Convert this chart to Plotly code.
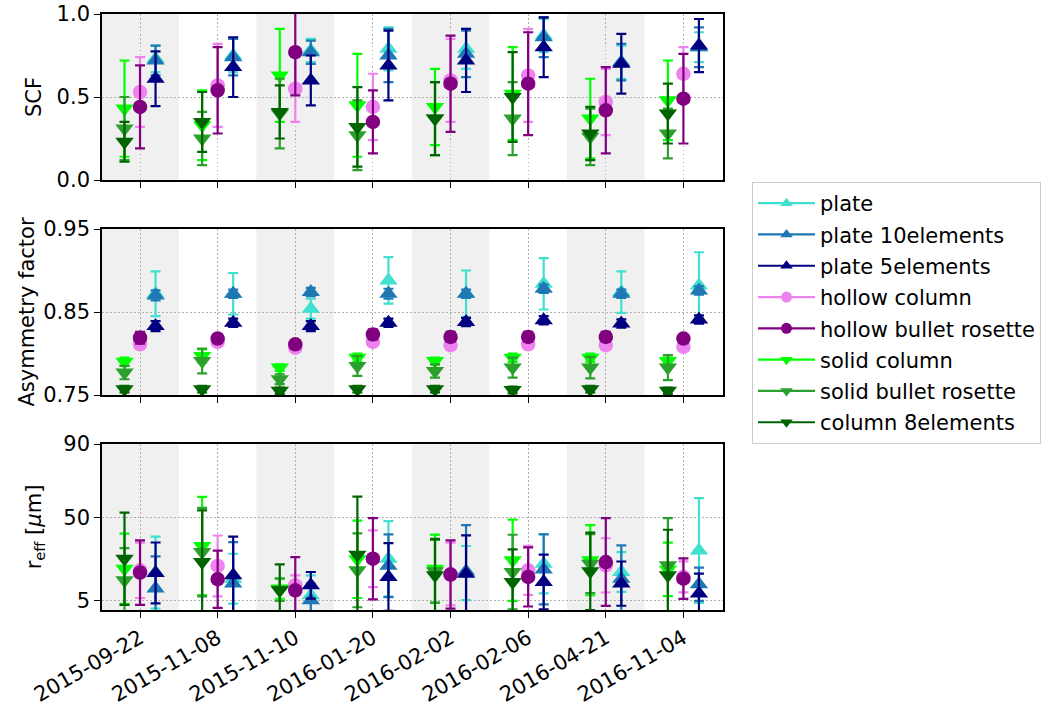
import plotly.graph_objects as go
from plotly.subplots import make_subplots

dates = ['2015-09-22', '2015-11-08', '2015-11-10', '2016-01-20',
         '2016-02-02', '2016-02-06', '2016-04-21', '2016-11-04']
habits = ['plate', 'plate 10elements', 'plate 5elements', 'hollow column',
          'hollow bullet rosette', 'solid column', 'solid bullet rosette',
          'column 8elements']

# SCF (mean, std) per habit, per date
scf_mean = [
    [0.73, 0.75, 0.78, 0.79, 0.79, 0.87, 0.71, 0.80],
    [0.72, 0.74, 0.77, 0.75, 0.76, 0.86, 0.71, 0.80],
    [0.61, 0.68, 0.60, 0.69, 0.72, 0.80, 0.70, 0.81],
    [0.53, 0.57, 0.55, 0.44, 0.60, 0.63, 0.47, 0.64],
    [0.44, 0.54, 0.77, 0.35, 0.58, 0.58, 0.42, 0.49],
    [0.43, 0.33, 0.63, 0.45, 0.44, 0.52, 0.37, 0.48],
    [0.31, 0.25, 0.40, 0.27, 0.37, 0.37, 0.26, 0.28],
    [0.23, 0.35, 0.41, 0.32, 0.37, 0.50, 0.28, 0.40],
]
scf_err = [
    [0.08, 0.10, 0.07, 0.13, 0.12, 0.10, 0.10, 0.09],
    [0.09, 0.11, 0.07, 0.16, 0.14, 0.12, 0.11, 0.12],
    [0.165, 0.18, 0.15, 0.21, 0.19, 0.18, 0.18, 0.16],
    [0.21, 0.25, 0.20, 0.20, 0.25, 0.28, 0.20, 0.16],
    [0.25, 0.26, 0.26, 0.19, 0.29, 0.31, 0.26, 0.27],
    [0.29, 0.21, 0.28, 0.31, 0.23, 0.28, 0.24, 0.24],
    [0.19, 0.16, 0.21, 0.21, 0.22, 0.22, 0.17, 0.15],
    [0.12, 0.18, 0.16, 0.24, 0.22, 0.27, 0.16, 0.18],
]

# Asymmetry factor (mean, std)
asym_mean = [
    [0.872, 0.872, 0.854, 0.888, 0.872, 0.884, 0.874, 0.882],
    [0.870, 0.872, 0.874, 0.872, 0.872, 0.878, 0.872, 0.876],
    [0.833, 0.837, 0.833, 0.837, 0.838, 0.840, 0.836, 0.841],
    [0.811, 0.814, 0.807, 0.814, 0.810, 0.811, 0.810, 0.808],
    [0.819, 0.818, 0.811, 0.823, 0.820, 0.820, 0.820, 0.818],
    [0.790, 0.797, 0.783, 0.795, 0.791, 0.795, 0.795, 0.791],
    [0.777, 0.791, 0.769, 0.785, 0.779, 0.783, 0.783, 0.783],
    [0.757, 0.757, 0.755, 0.757, 0.757, 0.756, 0.757, 0.755],
]
asym_err = [
    [0.027, 0.025, 0.012, 0.028, 0.028, 0.031, 0.025, 0.040],
    [0.006, 0.005, 0.005, 0.006, 0.005, 0.005, 0.005, 0.005],
    [0.006, 0.005, 0.006, 0.005, 0.005, 0.005, 0.005, 0.005],
    [0.004, 0.004, 0.004, 0.004, 0.004, 0.004, 0.004, 0.003],
    [0.007, 0.005, 0.005, 0.006, 0.006, 0.006, 0.006, 0.004],
    [0.005, 0.008, 0.004, 0.005, 0.004, 0.005, 0.005, 0.004],
    [0.008, 0.015, 0.006, 0.012, 0.008, 0.012, 0.013, 0.015],
    [0.004, 0.004, 0.004, 0.004, 0.004, 0.004, 0.004, 0.004],
]

# Effective radius (mean, std) in micrometres
reff_mean = [
    [20.3, 17.0, 8.0, 27.8, 20.0, 25.1, 20.6, 32.3],
    [11.6, 14.3, 5.3, 24.0, 21.0, 22.0, 17.0, 14.0],
    [20.1, 18.8, 13.4, 17.9, 19.7, 15.2, 14.3, 8.9],
    [21.5, 23.9, 13.4, 27.8, 19.5, 21.5, 24.2, 18.0],
    [20.3, 16.7, 10.7, 27.8, 19.2, 17.9, 26.0, 17.0],
    [22.4, 34.7, 11.6, 27.5, 22.4, 27.0, 27.0, 22.0],
    [16.1, 31.4, 11.0, 21.5, 21.0, 20.6, 25.1, 24.2],
    [27.8, 26.0, 10.7, 30.0, 18.8, 15.2, 21.0, 18.8],
]
reff_err = [
    [19.5, 13.5, 10.8, 20.4, 14.7, 16.1, 10.8, 28.4],
    [17.5, 22.5, 9.0, 17.0, 25.0, 19.0, 18.0, 9.0],
    [16.5, 21.0, 7.2, 18.4, 20.8, 14.8, 12.0, 10.8],
    [15.0, 16.5, 5.4, 15.4, 17.0, 13.3, 14.7, 8.4],
    [17.5, 15.5, 18.0, 22.0, 18.5, 16.0, 23.8, 11.0],
    [19.0, 26.6, 5.5, 21.0, 18.5, 22.0, 19.0, 14.5],
    [17.5, 24.0, 6.0, 20.0, 17.0, 20.2, 16.0, 25.6],
    [25.0, 28.0, 14.0, 31.5, 19.8, 17.7, 21.0, 24.7],
]

# ---- styles ----
colors = ['#40E0D0', '#1f77b4', '#000080', '#EE82EE', '#800080',
          '#00FF00', '#2ca02c', '#006400']
symbols = ['triangle-up'] * 3 + ['circle'] * 2 + ['triangle-down'] * 3
offsets = [0.2] * 3 + [0.0] * 2 + [-0.2] * 3
msize = [16, 16, 16, 14.5, 14.5, 16, 16, 16]

FONT = 'DejaVu Sans'
FS = 21

fig = make_subplots(rows=3, cols=1, shared_xaxes=True, vertical_spacing=0.08)

panels = [(scf_mean, scf_err), (asym_mean, asym_err), (reff_mean, reff_err)]
for r, (means, errs) in enumerate(panels, start=1):
    for k, name in enumerate(habits):
        xs = [i + offsets[k] for i in range(len(dates))]
        fig.add_trace(go.Scatter(
            x=xs, y=means[k], mode='markers', name=name, showlegend=False,
            marker=dict(symbol=symbols[k], size=msize[k], color=colors[k],
                        line=dict(width=0)),
            error_y=dict(type='data', array=errs[k], visible=True,
                         color=colors[k], thickness=2.2, width=5),
            cliponaxis=True,
        ), row=r, col=1)

# legend entries
for k, name in enumerate(habits):
    fig.add_trace(go.Scatter(
        x=[None], y=[None], mode='lines+markers', name=name,
        legendgroup=name,
        line=dict(color=colors[k], width=2.2),
        marker=dict(symbol=symbols[k], size=11, color=colors[k]),
    ), row=1, col=1)

W, HT = 1044, 704
L, T = 102, 14
PW, PH = 621, 596
H = float(PH)

fig.update_layout(
    yaxis=dict(domain=[(610 - 180) / H, 1.0]),
    yaxis2=dict(domain=[(610 - 395) / H, (610 - 229) / H]),
    yaxis3=dict(domain=[0.0, (610 - 444) / H]),
)

# alternating grey bands
for r in (1, 2, 3):
    xr = 'x' if r == 1 else f'x{r}'
    yr = 'y domain' if r == 1 else f'y{r} domain'
    for i in range(0, len(dates), 2):
        fig.add_shape(type='rect', xref=xr, yref=yr,
                      x0=i - 0.5, x1=i + 0.5, y0=0, y1=1,
                      fillcolor='#f0f0f0', line=dict(width=0), layer='below')

axis_common = dict(showline=True, linecolor='black', linewidth=1.6, mirror=True,
                   ticks='outside', ticklen=6, tickwidth=1.4, tickcolor='black',
                   showgrid=True, gridcolor='#b0b0b0', griddash='1.5px,2.5px', gridwidth=1.2,
                   zeroline=False, ticklabeloverflow='allow',
                   tickfont=dict(family=FONT, size=FS, color='black'))

for r in (1, 2, 3):
    fig.update_xaxes(range=[-0.49, 7.51], tickmode='array',
                     tickvals=list(range(len(dates))), ticktext=dates,
                     showticklabels=(r == 3), tickangle=-30, row=r, col=1,
                     **axis_common)

fig.update_yaxes(range=[0, 1], tickvals=[0.0, 0.5, 1.0], ticktext=['0.0', '0.5', '1.0'],
                 title=dict(text='SCF', standoff=9, font=dict(family=FONT, size=FS)),
                 row=1, col=1, **axis_common)
fig.update_yaxes(range=[0.75, 0.95], tickvals=[0.75, 0.85, 0.95],
                 ticktext=['0.75', '0.85', '0.95'],
                 title=dict(text='Asymmetry factor', standoff=3, font=dict(family=FONT, size=FS)),
                 row=2, col=1, **axis_common)
fig.update_yaxes(range=[0, 90], tickvals=[5, 50, 90], ticktext=['5', '50', '90'],
                 title=dict(text='r<sub>eff</sub> [<i>μ</i>m]', standoff=16,
                            font=dict(family=FONT, size=FS)),
                 row=3, col=1, **axis_common)

fig.update_layout(
    width=W, height=HT,
    margin=dict(l=L, r=W - L - PW, t=T, b=HT - T - PH, autoexpand=False),
    paper_bgcolor='white', plot_bgcolor='white',
    font=dict(family=FONT, size=FS, color='black'),
    showlegend=True,
    legend=dict(x=(752 - 102) / PW, y=(610 - 182) / H, xanchor='left', yanchor='top',
                bgcolor='white', bordercolor='#cccccc', borderwidth=1,
                font=dict(family=FONT, size=FS), tracegroupgap=1,
                itemwidth=57),
)

# remove the browser's default 8px body margin so the figure fills the window
fig.write_html('out.html',
               config={'displayModeBar': False},
               post_script="document.body.style.margin='0';"
                           "document.body.style.overflow='hidden';")
